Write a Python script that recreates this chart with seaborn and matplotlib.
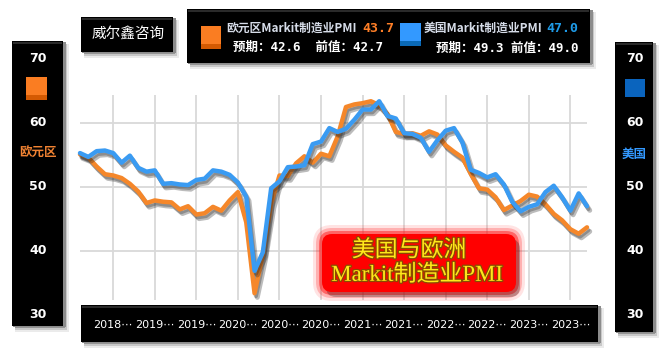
import numpy as np
import pandas as pd
import matplotlib
matplotlib.use("Agg")
import matplotlib.pyplot as plt
import matplotlib.patheffects as pe
import matplotlib.transforms as mtrans
from matplotlib.patches import Rectangle, FancyBboxPatch
import seaborn as sns

# monthly PMI, Jul 2018 .. Aug 2023
months = pd.date_range("2018-07-01", "2023-08-01", freq="MS")
eur = [55.1, 54.6, 53.2, 52.0, 51.8, 51.4,
       50.5, 49.3, 47.5, 47.9, 47.7, 47.6, 46.5, 47.0, 45.7, 45.9, 46.9, 46.3,
       47.9, 49.2, 44.5, 33.4, 39.4, 47.4, 51.8, 51.7, 53.7, 54.8, 53.8, 55.2,
       54.8, 57.9, 62.5, 62.9, 63.1, 63.4, 62.8, 61.4, 58.6, 58.3, 58.4, 58.0,
       58.7, 58.2, 56.5, 55.5, 54.6, 52.1, 49.8, 49.6, 48.4, 46.4, 47.1, 47.8,
       48.8, 48.5, 47.3, 45.8, 44.8, 43.4, 42.7, 43.7]
us = [55.3, 54.7, 55.6, 55.7, 55.3, 53.8,
      54.9, 53.0, 52.4, 52.6, 50.5, 50.6, 50.4, 50.3, 51.1, 51.3, 52.6, 52.4,
      51.9, 50.7, 48.5, 36.9, 39.8, 49.8, 50.9, 53.1, 53.2, 53.4, 56.7, 57.1,
      59.2, 58.6, 59.1, 60.5, 62.1, 62.1, 63.4, 61.1, 60.7, 58.4, 58.3, 57.7,
      55.5, 57.3, 58.8, 59.2, 57.0, 52.7, 52.2, 51.5, 52.0, 50.4, 47.7, 46.2,
      46.9, 47.3, 49.2, 50.2, 48.4, 46.3, 49.0, 47.0]
tick_months = ["2018-11", "2019-04", "2019-09", "2020-02", "2020-07", "2020-12",
               "2021-05", "2021-10", "2022-03", "2022-08", "2023-01", "2023-06"]
tick_labels = [m[:4] + "\u22ef" for m in tick_months]
side_ticks = [70, 60, 50, 40, 30]
grid_y = [40, 50, 60]

eur_now, eur_exp, eur_prev = "43.7", "42.6", "42.7"
us_now, us_exp, us_prev = "47.0", "49.3", "49.0"

df = pd.DataFrame({"date": months, "eur": eur, "us": us})
df["i"] = np.arange(len(df))
tick_x = [df.index[df["date"] == pd.Timestamp(m + "-01")][0] for m in tick_months]

ORANGE = "#F5872A"
BLUE = "#3A9BF2"

sns.set_style("white")
plt.rcParams["font.family"] = ["Noto Sans CJK SC", "DejaVu Sans"]
MONO = ["DejaVu Sans Mono", "Noto Sans CJK SC"]

W, H = 665, 355
fig = plt.figure(figsize=(W / 100, H / 100), dpi=100)
ID = mtrans.IdentityTransform()


def prect(x0, y0, x1, y1, zorder=1, **kw):
    r = Rectangle((x0, H - y1), x1 - x0, y1 - y0, transform=ID, zorder=zorder, **kw)
    fig.add_artist(r)
    return r


def black_panel(x0, y0, x1, y1, zorder=1):
    # soft shadow + bevel, then the black face
    for k, a in [(6, 0.08), (4, 0.15), (2, 0.25)]:
        prect(x0 + 2, y0 + 2, x1 + k, y1 + k, zorder=zorder, color="#000000", alpha=a, lw=0)
    prect(x0, y0, x1 + 3, y1 + 1, zorder=zorder, color="#8c8c8c", lw=0)
    prect(x0 - 1, y0 - 1, x1, y1, zorder=zorder, color="#000000", lw=0)
    prect(x0, y0, x1 - 1, y0 + 2, zorder=zorder, color="#2a2a2a", lw=0)


def px(x, y):
    return x / W, 1 - y / H


# main plot area
lo = 50 - (300 - 187) / 6.4
hi = 50 + (187 - 95) / 6.4
ax = fig.add_axes([80 / W, 1 - 300 / H, 507 / W, 205 / H])
ax.set_facecolor("none")
ax.set_xlim(0, len(df) - 1)
ax.set_ylim(lo, hi)
ax.set_xticks(tick_x)
ax.set_yticks(grid_y)
ax.grid(True, color="#d9d9d9", lw=1.3)
ax.tick_params(left=False, bottom=False, labelleft=False, labelbottom=False)
for s in ax.spines.values():
    s.set_visible(False)

shadow = [pe.SimpleLineShadow(offset=(2, -3), shadow_color="#222222", alpha=0.3, linewidth=3.5),
          pe.SimpleLineShadow(offset=(1, -2), shadow_color="#222222", alpha=0.3, linewidth=3),
          pe.Normal()]
sns.lineplot(data=df, x="i", y="eur", ax=ax, color=ORANGE, lw=3.2, path_effects=shadow,
             clip_on=False, zorder=3)
sns.lineplot(data=df, x="i", y="us", ax=ax, color=BLUE, lw=3.2, path_effects=shadow,
             clip_on=False, zorder=4)
ax.set_xlabel("")
ax.set_ylabel("")

# side panels
black_panel(13, 42, 63, 326)
black_panel(616, 43, 653, 332)
sy = mtrans.blended_transform_factory(fig.transFigure, ax.transData)
for v in side_ticks:
    fig.text(38 / W, v, str(v), transform=sy, color="white", fontsize=9, fontweight="bold",
             family="DejaVu Sans", ha="center", va="center", zorder=5)
    fig.text(635 / W, v, str(v), transform=sy, color="white", fontsize=9, fontweight="bold",
             family="DejaVu Sans", ha="center", va="center", zorder=5)
prect(26, 77, 47, 100, zorder=4, color="#FA7D22", lw=0)
prect(26, 95, 47, 100, zorder=4, color="#D45A02", lw=0)
fig.text(*px(38, 153), "欧元区", color="#F08232", fontsize=9, fontweight="bold",
         ha="center", va="center", zorder=5)
prect(625, 79, 645, 97, zorder=4, color="#0A64BE", lw=0)
fig.text(*px(634, 154), "美国", color="#3399FF", fontsize=9, fontweight="bold",
         ha="center", va="center", zorder=5)

# title and legend boxes
black_panel(82, 18, 173, 52)
fig.text(*px(128, 34), "威尔鑫咨询", color="white", fontsize=10.5, ha="center", va="center", zorder=5)

black_panel(188, 10, 590, 63)
prect(201, 26, 221, 49, zorder=4, color="#FA7D22", lw=0)
prect(201, 44, 221, 49, zorder=4, color="#D45A02", lw=0)
prect(400, 23, 421, 46, zorder=4, color="#3399FF", lw=0)
prect(400, 41, 421, 46, zorder=4, color="#0A6AB8", lw=0)
fig.text(*px(226, 28), "欧元区Markit制造业PMI", color="#D6DCE8", fontsize=8.5, fontweight="bold",
         ha="left", va="center", zorder=5)
fig.text(*px(362, 28), eur_now, color="#FF7F27", fontsize=9.5, fontweight="bold",
         family="DejaVu Sans Mono", ha="left", va="center", zorder=5)
fig.text(*px(233, 47), f"预期：{eur_exp}  前值：{eur_prev}", color="white", fontsize=9,
         fontweight="bold", family=MONO, ha="left", va="center", zorder=5)
fig.text(*px(424, 28), "美国Markit制造业PMI", color="#D6DCE8", fontsize=8.5, fontweight="bold",
         ha="left", va="center", zorder=5)
fig.text(*px(546, 28), us_now, color="#1E9BE8", fontsize=9.5, fontweight="bold",
         family="DejaVu Sans Mono", ha="left", va="center", zorder=5)
fig.text(*px(436, 48), f"预期：{us_exp} 前值：{us_prev}", color="white", fontsize=9,
         fontweight="bold", family=MONO, ha="left", va="center", zorder=5)

# bottom date bar
black_panel(82, 306, 598, 342)
bx = mtrans.blended_transform_factory(ax.transData, fig.transFigure)
for t, lab in zip(tick_x, tick_labels):
    fig.text(t, 1 - 325 / H, lab, transform=bx, color="white", fontsize=8,
             family="DejaVu Sans", ha="center", va="center", zorder=5)

# red caption
for k, a in [(9, 0.12), (6, 0.25), (3, 0.5)]:
    fig.add_artist(FancyBboxPatch((322 - k, H - 292 - k), 194 + 2 * k, 58 + 2 * k,
                                  boxstyle="round,pad=0,rounding_size=%d" % (10 + k),
                                  transform=ID, color="#FF1A1A", alpha=a, lw=0, zorder=2))
fig.add_artist(FancyBboxPatch((326, H - 297), 194, 58, boxstyle="round,pad=0,rounding_size=10",
                              transform=ID, color="#000000", alpha=0.25, lw=0, zorder=2))
fig.add_artist(FancyBboxPatch((322, H - 292), 194, 58, boxstyle="round,pad=0,rounding_size=10",
                              transform=ID, color="#FF0000", lw=0, zorder=2))
outline = [pe.withStroke(linewidth=1.8, foreground="#8a4a00")]
fig.text(*px(409, 250), "美国与欧洲", color="#FFE81A", fontsize=16.5, ha="center", va="center",
         path_effects=outline, zorder=6)
fig.text(*px(417, 275), "Markit制造业PMI", color="#FFE81A", fontsize=16.5,
         family=["Liberation Serif", "Noto Sans CJK SC"], ha="center", va="center",
         path_effects=outline, zorder=6)

fig.savefig("out.png", dpi=100, facecolor="white")
